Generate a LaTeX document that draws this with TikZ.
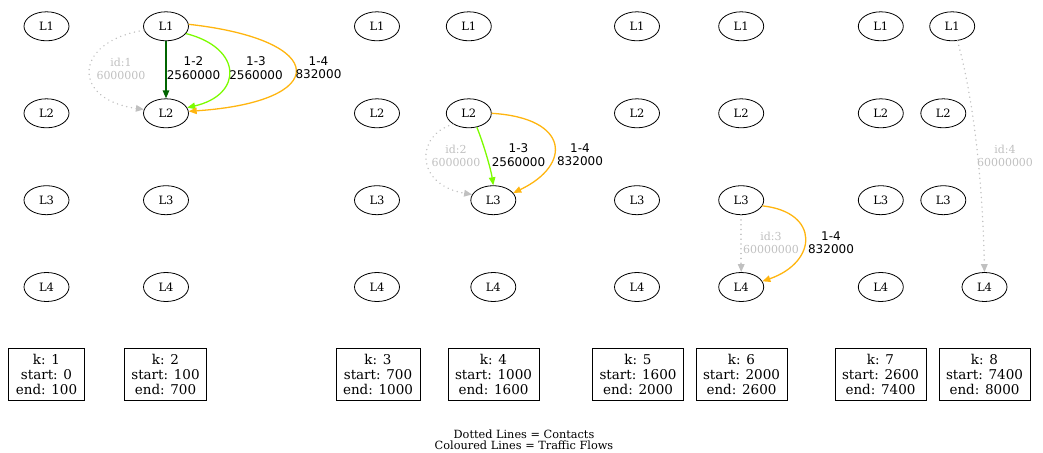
\documentclass[tikz,border=0pt]{standalone}
\usepackage{fontspec}
\setmainfont{DejaVu Serif}
\setsansfont{DejaVu Sans}
\usetikzlibrary{arrows.meta,shapes.geometric}

\definecolor{contactgray}{HTML}{C0C0C0}
\definecolor{flowdark}{HTML}{006400}
\definecolor{flowlight}{HTML}{7CFC00}
\definecolor{flowgold}{HTML}{FFB50F}

\tikzset{
  link/.style={draw, ellipse, minimum width=45pt, minimum height=29pt, inner sep=0pt,
    line width=0.8pt, font=\fontsize{11.5}{12}\selectfont},
  slot/.style={draw, rectangle, align=center, minimum height=52pt, inner xsep=7pt,
    line width=0.8pt, font=\fontsize{13.5}{15}\selectfont},
  tip/.style={-{Triangle[length=8pt,width=6.5pt]}},
  contact/.style={tip, contactgray, line width=1.6pt, line cap=round,
    dash pattern=on 0.01pt off 4.8pt},
  flow/.style={tip, line width=1.3pt},
  contactlabel/.style={text=contactgray, align=center, font=\fontsize{11}{12.3}\selectfont},
  flowlabel/.style={align=center, font=\sffamily\fontsize{12}{13.3}\selectfont},
}

\begin{document}
\begin{tikzpicture}[x=1pt,y=-1pt]
\useasboundingbox (0,0) rectangle (1043,452);

% Links L1..L4 for every slot k
\foreach \k/\xa/\xb/\xc/\xd in {1/46.5/46.5/46.5/46.5, 2/166/166/166/166,
    3/377/377/377/377, 4/468.8/468.8/493.3/493.3, 5/637/637/637/637,
    6/741.2/741.2/741.2/741.2, 7/880.8/880.8/880.8/880.8, 8/952.2/943.3/943.3/984.5}{
  \node[link] (k\k-L1) at (\xa,26.3) {L1};
  \node[link] (k\k-L2) at (\xb,113.3) {L2};
  \node[link] (k\k-L3) at (\xc,200.2) {L3};
  \node[link] (k\k-L4) at (\xd,287) {L4};
}

% Slot boxes
\foreach \k/\x/\s/\e in {1/46.5/0/100, 2/165.5/100/700, 3/378/700/1000, 4/493.5/1000/1600,
    5/638/1600/2000, 6/741.5/2000/2600, 7/880.5/2600/7400, 8/984.5/7400/8000}{
  \node[slot] (slot\k) at (\x,374) {k: \k\\start: \s\\end: \e};
}

% k = 2
\draw[contact] (k2-L1.190) .. controls (72,42) and (72,100) .. (k2-L2.170);
\draw[flow, flowdark] (k2-L1) -- (k2-L2);
\draw[flow, flowlight] (k2-L1.-20) .. controls (243,48) and (243,95) .. (k2-L2.15);
\draw[flow, flowgold] (k2-L1.5) .. controls (331,40) and (331,102) .. (k2-L2.5);
\node[contactlabel] (id1) at (121,69) {id:1\\6000000};
\node[flowlabel] (f12) at (193.5,68) {1-2\\2560000};
\node[flowlabel] (f13) at (256,68) {1-3\\2560000};
\node[flowlabel] (f14a) at (318.5,68) {1-4\\832000};

% k = 4
\draw[contact] (k4-L2.215) .. controls (415,135) and (415,185) .. (k4-L3.165);
\draw[flow, flowlight] (k4-L2.-60) .. controls (484,145) and (491,170) .. (k4-L3.north);
\draw[flow, flowgold] (k4-L2.east) .. controls (570,118) and (572,165) .. (k4-L3.20);
\node[contactlabel] (id2) at (456,156) {id:2\\6000000};
\node[flowlabel] (f13b) at (518.5,155) {1-3\\2560000};
\node[flowlabel] (f14b) at (580,155) {1-4\\832000};

% k = 6
\draw[contact] (k6-L3) -- (k6-L4);
\draw[flow, flowgold] (k6-L3.-15) .. controls (820,212) and (818,262) .. (k6-L4.15);
\node[contactlabel] (id3) at (771,243) {id:3\\60000000};
\node[flowlabel] (f14c) at (831,243) {1-4\\832000};

% k = 8
\draw[contact] (k8-L1.-70) .. controls (977,112) and (983,202) .. (k8-L4.north);
\node[contactlabel] (id4) at (1005,156) {id:4\\60000000};

% Legend
\node[align=center, font=\fontsize{11.3}{11}\selectfont] (legend) at (524,440)
  {Dotted Lines = Contacts\\Coloured Lines = Traffic Flows};
\end{tikzpicture}
\end{document}
